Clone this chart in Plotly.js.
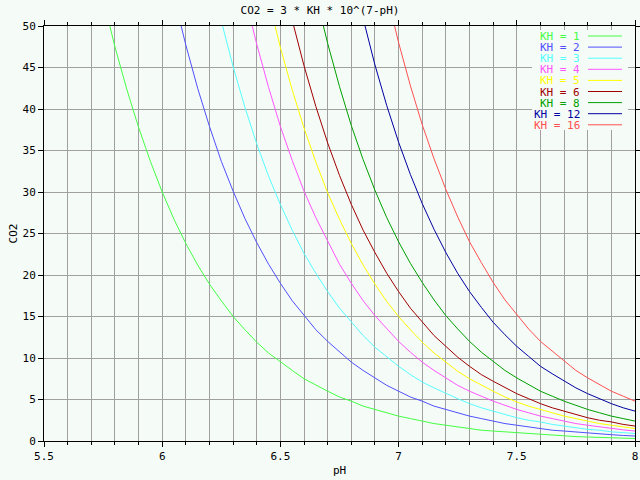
<!DOCTYPE html>
<html>
<head>
<meta charset="utf-8">
<script src="https://cdn.plot.ly/plotly-3.0.1.min.js"></script>
<style>body{margin:0;background:#f5fbf7}</style>
</head>
<body>
<div id="chart" style="width:640px;height:480px"></div>
<script>
// pH sample points (x)
var pH = [5.5, 5.55, 5.6, 5.65, 5.7, 5.75, 5.8, 5.85, 5.9, 5.95,
          6.0, 6.05, 6.1, 6.15, 6.2, 6.25, 6.3, 6.35, 6.4, 6.45,
          6.5, 6.55, 6.6, 6.65, 6.7, 6.75, 6.8, 6.85, 6.9, 6.95,
          7.0, 7.05, 7.1, 7.15, 7.2, 7.25, 7.3, 7.35, 7.4, 7.45,
          7.5, 7.55, 7.6, 7.65, 7.7, 7.75, 7.8, 7.85, 7.9, 7.95, 8.0];

// CO2 readings per KH, each one ends at pH 8 (starts just above the top of the chart)
var kh1 = [53.3, 47.5, 42.4, 37.8, 33.7, 30.0, 26.7, 23.8, 21.2, 18.9, 16.9, 15.0, 13.4, 11.9, 10.6,
           9.5, 8.5, 7.5, 6.7, 6.0, 5.3, 4.8, 4.2, 3.8, 3.4, 3.0, 2.7, 2.4, 2.1, 1.9, 1.7, 1.5, 1.3,
           1.2, 1.1, 0.95, 0.85, 0.75, 0.67, 0.6, 0.53, 0.48, 0.42, 0.38, 0.34, 0.3];
var kh2 = [53.5, 47.7, 42.5, 37.9, 33.7, 30.1, 26.8, 23.9, 21.3, 19.0, 16.9, 15.1, 13.4, 12.0, 10.7,
           9.5, 8.5, 7.6, 6.7, 6.0, 5.3, 4.8, 4.2, 3.8, 3.4, 3.0, 2.7, 2.4, 2.1, 1.9, 1.7, 1.5, 1.3,
           1.2, 1.07, 0.95, 0.85, 0.76, 0.67, 0.6];
var kh3 = [50.6, 45.1, 40.2, 35.8, 31.9, 28.5, 25.4, 22.6, 20.2, 18.0, 16.0, 14.3, 12.7, 11.3, 10.1,
           9.0, 8.0, 7.1, 6.4, 5.7, 5.1, 4.5, 4.0, 3.6, 3.2, 2.8, 2.5, 2.3, 2.0, 1.8, 1.6, 1.4, 1.3,
           1.1, 1.01, 0.9];
var kh4 = [53.6, 47.8, 42.6, 37.9, 33.8, 30.1, 26.9, 24.0, 21.3, 19.0, 16.9, 15.1, 13.5, 12.0, 10.7,
           9.5, 8.5, 7.6, 6.7, 6.0, 5.4, 4.8, 4.3, 3.8, 3.4, 3.0, 2.7, 2.4, 2.1, 1.9, 1.7, 1.5, 1.34, 1.2];
var kh5 = [53.2, 47.4, 42.3, 37.7, 33.6, 29.9, 26.7, 23.8, 21.2, 18.9, 16.8, 15.0, 13.4, 11.9, 10.6,
           9.5, 8.4, 7.5, 6.7, 6.0, 5.3, 4.7, 4.2, 3.8, 3.4, 3.0, 2.7, 2.4, 2.1, 1.9, 1.7, 1.5];
var kh6 = [50.7, 45.2, 40.3, 35.9, 32.0, 28.5, 25.4, 22.7, 20.2, 18.0, 16.0, 14.3, 12.7, 11.4, 10.1,
           9.0, 8.0, 7.2, 6.4, 5.7, 5.1, 4.5, 4.0, 3.6, 3.2, 2.8, 2.5, 2.3, 2.0, 1.8];
var kh8 = [53.7, 47.9, 42.7, 38.0, 33.9, 30.2, 26.9, 24.0, 21.4, 19.1, 17.0, 15.1, 13.5, 12.0, 10.7,
           9.6, 8.5, 7.6, 6.8, 6.0, 5.4, 4.8, 4.3, 3.8, 3.4, 3.0, 2.7, 2.4];
var kh12 = [50.9, 45.3, 40.4, 36.0, 32.1, 28.6, 25.5, 22.7, 20.2, 18.0, 16.1, 14.3, 12.8, 11.4, 10.2,
            9.0, 8.1, 7.2, 6.4, 5.7, 5.1, 4.5, 4.0, 3.6];
var kh16 = [53.9, 48.0, 42.8, 38.1, 34.0, 30.3, 27.0, 24.0, 21.5, 19.1, 17.0, 15.2, 13.5, 12.0, 10.8,
            9.6, 8.5, 7.6, 6.8, 6.0, 5.4, 4.8];

var names = ['KH = 1', 'KH = 2', 'KH = 3', 'KH = 4', 'KH = 5', 'KH = 6', 'KH = 8', 'KH = 12', 'KH = 16'];
var series = [kh1, kh2, kh3, kh4, kh5, kh6, kh8, kh12, kh16];
var colors = ['#44ff44', '#5050ff', '#55ffff', '#ff55ff', '#ffff00', '#a00000', '#00a000', '#0000a0', '#ff5050'];

var bg = '#f5fbf7';
var mono = 'DejaVu Sans Mono, monospace';

var traces = [];
for (var i = 0; i < series.length; i++) {
    traces.push({
        x: pH.slice(pH.length - series[i].length),
        y: series[i],
        name: names[i],
        mode: 'lines',
        type: 'scatter',
        line: {color: colors[i], width: 1},
        hoverinfo: 'skip',
        showlegend: false
    });
}

// hand made legend: text right aligned, line sample after it
var plotTop = 26, plotBottom = 441, plotLeft = 44, plotRight = 635;
function px2x(p) { return (p - plotLeft) / (plotRight - plotLeft); }
function px2y(p) { return (plotBottom - p) / (plotBottom - plotTop); }

var annotations = [];
var shapes = [{
    type: 'rect', xref: 'paper', yref: 'paper', layer: 'above',
    x0: px2x(532), x1: px2x(628), y0: px2y(130), y1: px2y(30),
    fillcolor: bg, line: {width: 0}
}];
for (var i = 0; i < names.length; i++) {
    var yy = px2y(36 + 11.1 * i);
    annotations.push({
        xref: 'paper', yref: 'paper', x: px2x(581), y: yy,
        xanchor: 'right', yanchor: 'middle', showarrow: false,
        height: 10, borderpad: 0,
        text: names[i], font: {family: mono, size: 11, color: colors[i]}
    });
    shapes.push({
        type: 'line', xref: 'paper', yref: 'paper', layer: 'above',
        x0: px2x(588), x1: px2x(622), y0: yy, y1: yy,
        line: {color: colors[i], width: 1}
    });
}

var layout = {
    width: 640,
    height: 480,
    paper_bgcolor: bg,
    plot_bgcolor: bg,
    font: {family: mono, size: 11, color: '#000'},
    title: {text: 'CO2 = 3 * KH * 10^(7-pH)', x: 0.5, xanchor: 'center', y: 0.978, yanchor: 'middle',
            font: {family: mono, size: 11}},
    margin: {l: plotLeft, r: 640 - plotRight, t: plotTop, b: 480 - plotBottom},
    xaxis: {
        range: [5.5, 8], dtick: 0.5, tick0: 5.5,
        showline: true, linecolor: '#000', linewidth: 1, mirror: 'ticks',
        ticks: 'outside', ticklen: 5, tickcolor: '#000',
        showgrid: true, gridcolor: '#a0a0a0', gridwidth: 1, zeroline: false,
        minor: {dtick: 0.1, ticks: 'outside', ticklen: 3, tickcolor: '#000', showgrid: true, gridcolor: '#a0a0a0'},
        title: {text: 'pH', standoff: 4, font: {family: mono, size: 11}}
    },
    yaxis: {
        range: [0, 50], dtick: 5,
        showline: true, linecolor: '#000', linewidth: 1, mirror: 'ticks',
        ticks: 'outside', ticklen: 5, tickcolor: '#000',
        showgrid: true, gridcolor: '#a0a0a0', gridwidth: 1, zeroline: false,
        title: {text: 'CO2', standoff: 2, font: {family: mono, size: 11}}
    },
    annotations: annotations,
    shapes: shapes
};

Plotly.newPlot('chart', traces, layout, {displayModeBar: false, staticPlot: true});
</script>
</body>
</html>
